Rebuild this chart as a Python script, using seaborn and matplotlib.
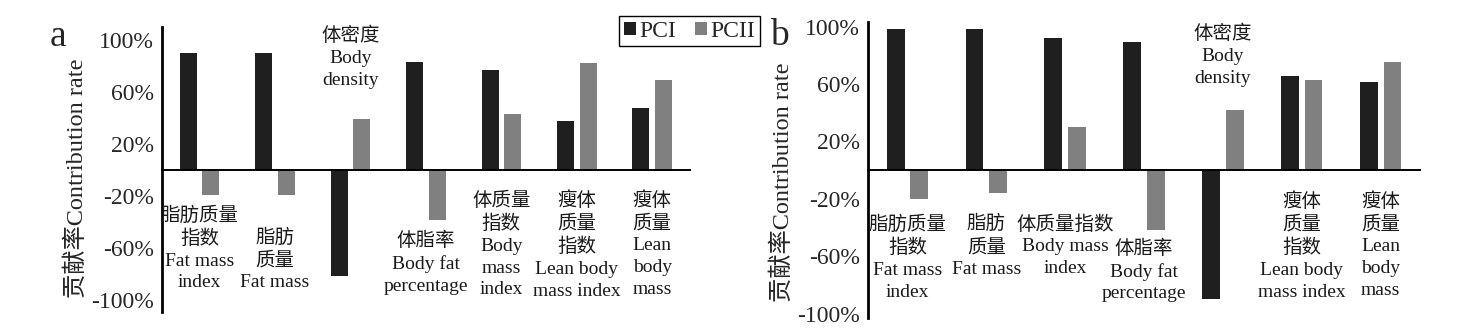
import matplotlib
matplotlib.use("Agg")
import matplotlib.pyplot as plt
import seaborn as sns
import pandas as pd

sns.set_theme(style="white")
plt.rcParams["font.family"] = ["Liberation Serif", "Noto Sans CJK SC"]
plt.rcParams["axes.unicode_minus"] = False

# ---- data -------------------------------------------------------------
series = ["PCI", "PCII"]

cats_a = ["FMI", "FM", "BD", "BF", "BMI", "LBMI", "LBM"]
pc1_a = [0.90, 0.90, -0.82, 0.83, 0.77, 0.38, 0.48]
pc2_a = [-0.19, -0.19, 0.39, -0.39, 0.43, 0.825, 0.69]

cats_b = ["FMI", "FM", "BMI", "BF", "BD", "LBMI", "LBM"]
pc1_b = [0.98, 0.98, 0.92, 0.89, -0.90, 0.655, 0.61]
pc2_b = [-0.20, -0.16, 0.30, -0.42, 0.42, 0.625, 0.75]

ticks = [-1.0, -0.6, -0.2, 0.2, 0.6, 1.0]
tick_labels = ["-100%", "-60%", "-20%", "20%", "60%", "100%"]

labels_a = {
    "FMI": "脂肪质量\n指数\nFat mass\nindex",
    "FM": "脂肪\n质量\nFat mass",
    "BD": "体密度\nBody\ndensity",
    "BF": "体脂率\nBody fat\npercentage",
    "BMI": "体质量\n指数\nBody\nmass\nindex",
    "LBMI": "瘦体\n质量\n指数\nLean body\nmass index",
    "LBM": "瘦体\n质量\nLean\nbody\nmass",
}
labels_b = {
    "FMI": "脂肪质量\n指数\nFat mass\nindex",
    "FM": "脂肪\n质量\nFat mass",
    "BMI": "体质量指数\nBody mass\nindex",
    "BF": "体脂率\nBody fat\npercentage",
    "BD": "体密度\nBody\ndensity",
    "LBMI": "瘦体\n质量\n指数\nLean body\nmass index",
    "LBM": "瘦体\n质量\nLean\nbody\nmass",
}

# top edge of each category label (data units)
label_top_a = {"FMI": -0.28, "FM": -0.455, "BD": 1.10, "BF": -0.48,
               "BMI": -0.165, "LBMI": -0.165, "LBM": -0.165}
label_top_b = {"FMI": -0.315, "FM": -0.315, "BMI": -0.315, "BF": -0.485,
               "BD": 1.01, "LBMI": -0.155, "LBM": -0.155}

palette = {"PCI": "#1f1f1f", "PCII": "#808080"}


def long_form(cats, v1, v2):
    return pd.DataFrame({
        "category": cats * 2,
        "component": ["PCI"] * len(cats) + ["PCII"] * len(cats),
        "value": list(v1) + list(v2),
    })


fig = plt.figure(figsize=(14.72, 3.34), dpi=100)
ax_a = fig.add_axes([0.110, 0.0659, 0.3587, 0.853])
ax_b = fig.add_axes([0.5897, 0.0479, 0.375, 0.886])

panels = [
    (ax_a, cats_a, pc1_a, pc2_a, labels_a, label_top_a, (-1.095, 1.10)),
    (ax_b, cats_b, pc1_b, pc2_b, labels_b, label_top_b, (-1.031, 1.031)),
]

for ax, cats, v1, v2, labels, tops, ylim in panels:
    df = long_form(cats, v1, v2)
    sns.barplot(data=df, x="category", y="value", hue="component",
                order=cats, hue_order=series, palette=palette,
                width=0.6, gap=0.25, saturation=1, linewidth=0,
                errorbar=None, legend=True, ax=ax)
    ax.set_xlim(-0.5, len(cats) - 0.5)
    ax.set_ylim(*ylim)
    ax.set_yticks(ticks)
    ax.set_yticklabels(tick_labels, fontsize=17)
    ax.tick_params(axis="y", length=0, pad=6)
    ax.set_xticks([])
    ax.set_xlabel("")
    ax.set_ylabel("贡献率Contribution rate", fontsize=17.5, labelpad=2)
    for s in ["top", "right"]:
        ax.spines[s].set_visible(False)
    ax.spines["left"].set_linewidth(2.0)
    ax.spines["left"].set_color("black")
    ax.spines["bottom"].set_position(("data", 0))
    ax.spines["bottom"].set_linewidth(1.4)
    ax.spines["bottom"].set_color("black")
    ax.patch.set_alpha(0)
    for i, c in enumerate(cats):
        ax.text(i, tops[c], labels[c], ha="center", va="top",
                fontsize=14, linespacing=1.36, color="#1a1a1a")
    handles, names = ax.get_legend_handles_labels()
    ax.get_legend().remove()

ax_a.yaxis.label.set_position((0, 0.47))
ax_b.yaxis.label.set_position((0, 0.46))

fig.legend(handles, names, loc="upper left",
           bbox_to_anchor=(619 / 1472, 1 - 16 / 334), borderaxespad=0,
           ncol=2, fontsize=17, frameon=True, fancybox=False,
           edgecolor="black", framealpha=1, handlelength=0.5,
           handleheight=0.5, handletextpad=0.15, columnspacing=0.8,
           borderpad=0.2)
fig.legends[0].get_frame().set_linewidth(1.0)

fig.text(58 / 1472, 1 - 46 / 334, "a", fontsize=27, ha="center", va="baseline")
fig.text(779 / 1472, 1 - 45 / 334, "b", fontsize=27, ha="center", va="baseline")

fig.savefig("out.png", dpi=100, facecolor="white")
